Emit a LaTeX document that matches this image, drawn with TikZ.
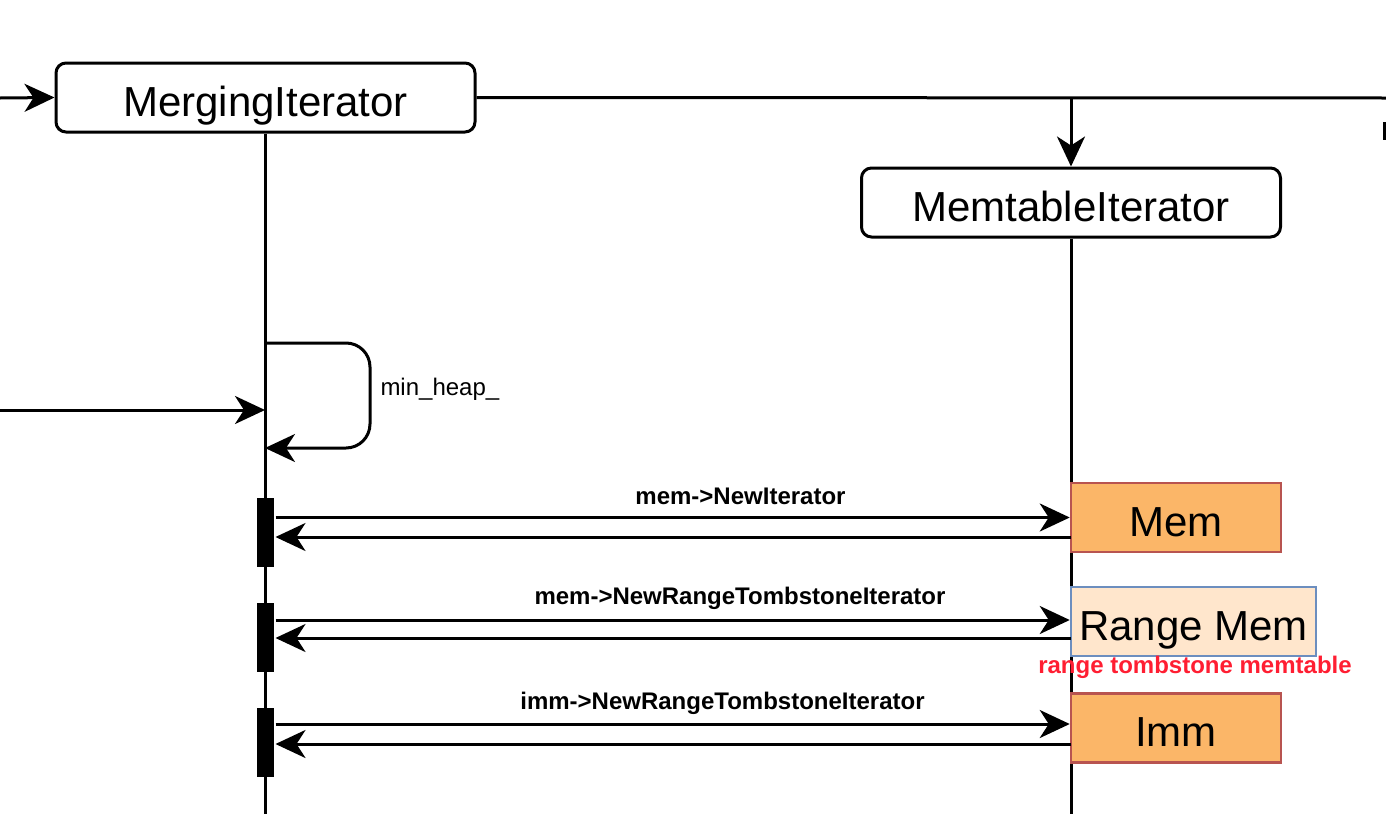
\documentclass[tikz,border=0pt]{standalone}
\usepackage{fontspec}
\setmainfont{Liberation Sans}
\usetikzlibrary{arrows.meta}
\definecolor{memfill}{RGB}{251,182,104}
\definecolor{memline}{RGB}{184,84,80}
\definecolor{rfill}{RGB}{255,230,204}
\definecolor{rline}{RGB}{108,142,191}
\definecolor{redtxt}{RGB}{255,30,50}
\begin{document}
\begin{tikzpicture}[x=1pt,y=-1pt,line width=3pt,
  >={Stealth[length=30pt,width=28pt,inset=9pt]},
  lifebox/.style={draw,rounded corners=10pt,minimum width=419pt,minimum height=69pt,inner sep=0pt,text height=37pt,text depth=0pt,font=\fontsize{42}{50}\selectfont},
  actbar/.style={fill=black,draw=none,minimum width=17pt,minimum height=69pt,inner sep=0pt},
  msg/.style={inner sep=0pt,font=\bfseries\fontsize{24}{28}\selectfont},
  plain/.style={inner sep=0pt,font=\fontsize{24}{28}\selectfont},
  tbox/.style={draw=memline,fill=memfill,line width=2.5pt,minimum height=69pt,inner sep=0pt,text height=37pt,text depth=0pt,font=\fontsize{42}{50}\selectfont}]
\useasboundingbox (0,0) rectangle (1386,814);

% lifeline heads
\node[lifebox] (merge) at (265.5,97.5) {MergingIterator};
\node[lifebox] (memit) at (1071,202.5) {MemtableIterator};

% lifelines
\coordinate (mergeend) at (265,814);
\coordinate (memend) at (1071,814);
\draw (merge.south -| mergeend) -- (mergeend);
\draw (memit.south) -- (memend);

% top connectors
\coordinate (inA) at (0,98);
\coordinate (topR) at (1386,98);
\coordinate (branch) at (1071,98);
\draw[->] (inA) -- (merge.west);
\draw (merge.east) -- (topR);
\draw[->] (branch) -- (memit.north);
\fill (1383,122) rectangle (1386,140);

% incoming call and self loop
\coordinate (inB) at (0,410);
\coordinate (inBend) at (265,410);
\draw[->] (inB) -- (inBend);
\coordinate (loopS) at (265,343);
\coordinate (loopE) at (265,448);
\draw[->,rounded corners=24pt] (loopS) -- (370,343) -- (370,448) -- (loopE);
\node[plain,anchor=west] (heap) at (379,389) {min\_heap\_};

% target boxes
\node[tbox,minimum width=210pt] (mem) at (1176,517.5) {Mem};
\node[tbox,draw=rline,fill=rfill,minimum width=245pt] (rmem) at (1193.5,621.5) {Range Mem};
\node[tbox,minimum width=210pt] (imm) at (1176,728) {Imm};
\node[inner sep=0pt,text=redtxt,font=\bfseries\fontsize{24}{28}\selectfont] (rlabel) at (1195,667) {range tombstone memtable};

% activation bars
\node[actbar] (a1) at (265.5,532.5) {};
\node[actbar] (a2) at (265.5,637.5) {};
\node[actbar] (a3) at (265.5,742.5) {};

% messages
\coordinate (r1) at (1071,537);
\coordinate (r2) at (1071,638);
\coordinate (r3) at (1071,744);
\draw[->] (a1.east |- mem.west) -- (mem.west);
\draw[->] (r1) -- (r1 -| a1.east);
\draw[->] (a2.east |- 0,620) -- (rmem.west |- 0,620);
\draw[->] (r2) -- (r2 -| a2.east);
\draw[->] (a3.east |- 0,724) -- (imm.west |- 0,724);
\draw[->] (r3) -- (r3 -| a3.east);

\node[msg] (m1) at (740.5,496) {mem->NewIterator};
\node[msg] (m2) at (740,598) {mem->NewRangeTombstoneIterator};
\node[msg] (m3) at (722.5,703) {imm->NewRangeTombstoneIterator};
\end{tikzpicture}
\end{document}
